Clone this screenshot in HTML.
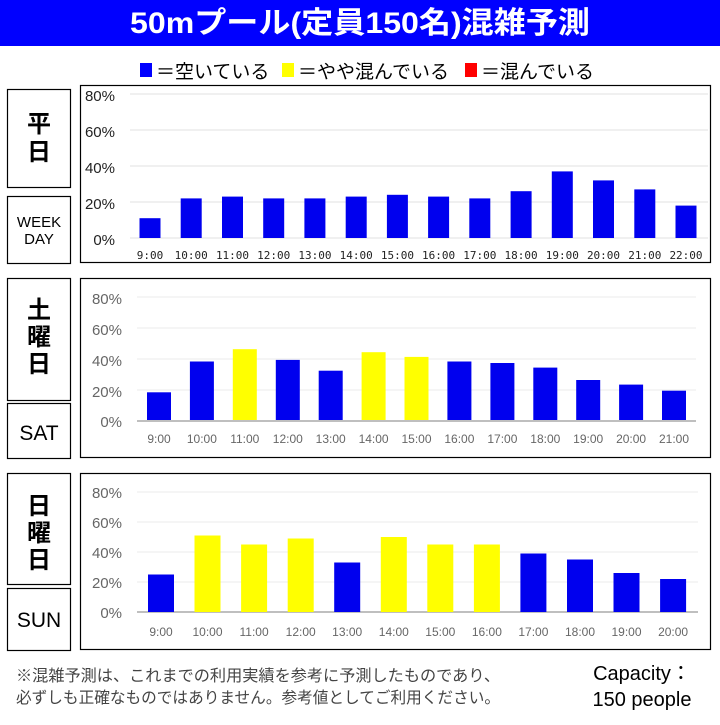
<!DOCTYPE html>
<html><head><meta charset="utf-8"><style>
body{margin:0;background:#fff;width:720px;height:720px;overflow:hidden}
text{font-family:"Liberation Sans","Noto Sans CJK JP",sans-serif}
.m{font-family:"DejaVu Sans Mono","Liberation Mono",monospace}
</style></head><body>
<svg width="720" height="720" xmlns="http://www.w3.org/2000/svg">
<rect x="0" y="0" width="720" height="46" fill="#0000ff"/>
<text x="360" y="33" text-anchor="middle" font-size="30" font-weight="bold" fill="#fff" textLength="460" lengthAdjust="spacingAndGlyphs">50mプール(定員150名)混雑予測</text>
<rect x="140" y="63" width="12" height="14" fill="#0000ff"/>
<text x="156" y="78" font-size="19" fill="#000">＝空いている</text>
<rect x="282" y="63" width="12" height="14" fill="#ffff00"/>
<text x="298" y="78" font-size="19" fill="#000">＝やや混んでいる</text>
<rect x="465" y="63" width="12" height="14" fill="#ff0000"/>
<text x="481" y="78" font-size="19" fill="#000">＝混んでいる</text>

<g fill="none" stroke="#000" stroke-width="1.2">
<rect x="7.5" y="89.5" width="63" height="98"/>
<rect x="7.5" y="196.5" width="63" height="67"/>
<rect x="80.5" y="85.5" width="630" height="177"/>
<rect x="7.5" y="278.5" width="63" height="122"/>
<rect x="7.5" y="403.5" width="63" height="55"/>
<rect x="80.5" y="278.5" width="630" height="179"/>
<rect x="7.5" y="473.5" width="63" height="111"/>
<rect x="7.5" y="588.5" width="63" height="62"/>
<rect x="80.5" y="473.5" width="630" height="176"/>
</g>
<g font-weight="bold" font-size="24" text-anchor="middle" fill="#000">
<text x="39" y="132">平</text><text x="39" y="160">日</text>
<text x="39" y="318">土</text><text x="39" y="345">曜</text><text x="39" y="372">日</text>
<text x="39" y="514">日</text><text x="39" y="541">曜</text><text x="39" y="568">日</text>
</g>
<g font-size="15" text-anchor="middle" fill="#000">
<text x="39" y="227">WEEK</text><text x="39" y="244">DAY</text>
</g>
<g font-size="21" text-anchor="middle" fill="#000">
<text x="39" y="440">SAT</text><text x="39" y="627">SUN</text>
</g>

<!-- panel 1 -->
<g stroke="#e0e0e0" stroke-width="1">
<line x1="130" x2="708" y1="94" y2="94"/><line x1="130" x2="708" y1="130" y2="130"/>
<line x1="130" x2="708" y1="166" y2="166"/><line x1="130" x2="708" y1="202" y2="202"/>
<line x1="130" x2="708" y1="238" y2="238"/>
</g>
<g font-size="15" fill="#222" text-anchor="end">
<text x="115" y="101">80%</text><text x="115" y="137">60%</text><text x="115" y="173">40%</text><text x="115" y="209">20%</text><text x="115" y="245">0%</text>
</g>
<g fill="#0000ee">
<rect x="139.5" y="218.2" width="21" height="19.8"/>
<rect x="180.7" y="198.4" width="21" height="39.6"/>
<rect x="222" y="196.6" width="21" height="41.4"/>
<rect x="263.2" y="198.4" width="21" height="39.6"/>
<rect x="304.4" y="198.4" width="21" height="39.6"/>
<rect x="345.7" y="196.6" width="21" height="41.4"/>
<rect x="386.9" y="194.8" width="21" height="43.2"/>
<rect x="428.1" y="196.6" width="21" height="41.4"/>
<rect x="469.3" y="198.4" width="21" height="39.6"/>
<rect x="510.6" y="191.2" width="21" height="46.8"/>
<rect x="551.8" y="171.4" width="21" height="66.6"/>
<rect x="593" y="180.4" width="21" height="57.6"/>
<rect x="634.3" y="189.4" width="21" height="48.6"/>
<rect x="675.5" y="205.6" width="21" height="32.4"/>
</g>
<g font-size="11" fill="#222" text-anchor="middle">
<text class="m" x="150" y="259">9:00</text><text class="m" x="191.2" y="259">10:00</text><text class="m" x="232.5" y="259">11:00</text><text class="m" x="273.7" y="259">12:00</text><text class="m" x="314.9" y="259">13:00</text><text class="m" x="356.2" y="259">14:00</text><text class="m" x="397.4" y="259">15:00</text><text class="m" x="438.6" y="259">16:00</text><text class="m" x="479.8" y="259">17:00</text><text class="m" x="521.1" y="259">18:00</text><text class="m" x="562.3" y="259">19:00</text><text class="m" x="603.5" y="259">20:00</text><text class="m" x="644.8" y="259">21:00</text><text class="m" x="686" y="259">22:00</text>
</g>

<!-- panel 2 -->
<g stroke="#ebebeb" stroke-width="1">
<line x1="137" x2="696" y1="297" y2="297"/><line x1="137" x2="696" y1="328" y2="328"/>
<line x1="137" x2="696" y1="359" y2="359"/><line x1="137" x2="696" y1="390" y2="390"/>
</g>
<line x1="137" x2="696" y1="421" y2="421" stroke="#bfbfbf" stroke-width="2"/>
<g font-size="15" fill="#666" text-anchor="end">
<text x="122" y="304">80%</text><text x="122" y="335">60%</text><text x="122" y="366">40%</text><text x="122" y="397">20%</text><text x="122" y="427">0%</text>
</g>
<g>
<rect x="147" y="392.3" width="24" height="27.7" fill="#0000ee"/>
<rect x="189.9" y="361.5" width="24" height="58.5" fill="#0000ee"/>
<rect x="232.8" y="349.2" width="24" height="70.8" fill="#ffff00"/>
<rect x="275.8" y="359.9" width="24" height="60.1" fill="#0000ee"/>
<rect x="318.7" y="370.7" width="24" height="49.3" fill="#0000ee"/>
<rect x="361.6" y="352.2" width="24" height="67.8" fill="#ffff00"/>
<rect x="404.5" y="356.9" width="24" height="63.1" fill="#ffff00"/>
<rect x="447.4" y="361.5" width="24" height="58.5" fill="#0000ee"/>
<rect x="490.4" y="363" width="24" height="57" fill="#0000ee"/>
<rect x="533.3" y="367.6" width="24" height="52.4" fill="#0000ee"/>
<rect x="576.2" y="380" width="24" height="40" fill="#0000ee"/>
<rect x="619.1" y="384.6" width="24" height="35.4" fill="#0000ee"/>
<rect x="662" y="390.7" width="24" height="29.3" fill="#0000ee"/>
</g>
<g font-size="12" fill="#666" text-anchor="middle">
<text x="159" y="443">9:00</text><text x="201.9" y="443">10:00</text><text x="244.8" y="443">11:00</text><text x="287.8" y="443">12:00</text><text x="330.7" y="443">13:00</text><text x="373.6" y="443">14:00</text><text x="416.5" y="443">15:00</text><text x="459.4" y="443">16:00</text><text x="502.4" y="443">17:00</text><text x="545.3" y="443">18:00</text><text x="588.2" y="443">19:00</text><text x="631.1" y="443">20:00</text><text x="674" y="443">21:00</text>
</g>

<!-- panel 3 -->
<g stroke="#ebebeb" stroke-width="1">
<line x1="137" x2="698" y1="492" y2="492"/><line x1="137" x2="698" y1="522" y2="522"/>
<line x1="137" x2="698" y1="552" y2="552"/><line x1="137" x2="698" y1="582" y2="582"/>
</g>
<line x1="137" x2="698" y1="612" y2="612" stroke="#bfbfbf" stroke-width="2"/>
<g font-size="15" fill="#666" text-anchor="end">
<text x="122" y="498">80%</text><text x="122" y="528">60%</text><text x="122" y="558">40%</text><text x="122" y="588">20%</text><text x="122" y="618">0%</text>
</g>
<g>
<rect x="148" y="574.5" width="26" height="37.5" fill="#0000ee"/>
<rect x="194.5" y="535.5" width="26" height="76.5" fill="#ffff00"/>
<rect x="241.1" y="544.5" width="26" height="67.5" fill="#ffff00"/>
<rect x="287.7" y="538.5" width="26" height="73.5" fill="#ffff00"/>
<rect x="334.2" y="562.5" width="26" height="49.5" fill="#0000ee"/>
<rect x="380.8" y="537" width="26" height="75" fill="#ffff00"/>
<rect x="427.3" y="544.5" width="26" height="67.5" fill="#ffff00"/>
<rect x="473.9" y="544.5" width="26" height="67.5" fill="#ffff00"/>
<rect x="520.4" y="553.5" width="26" height="58.5" fill="#0000ee"/>
<rect x="567" y="559.5" width="26" height="52.5" fill="#0000ee"/>
<rect x="613.5" y="573" width="26" height="39" fill="#0000ee"/>
<rect x="660.1" y="579" width="26" height="33" fill="#0000ee"/>
</g>
<g font-size="12" fill="#666" text-anchor="middle">
<text x="161" y="636">9:00</text><text x="207.5" y="636">10:00</text><text x="254.1" y="636">11:00</text><text x="300.7" y="636">12:00</text><text x="347.2" y="636">13:00</text><text x="393.8" y="636">14:00</text><text x="440.3" y="636">15:00</text><text x="486.9" y="636">16:00</text><text x="533.4" y="636">17:00</text><text x="580" y="636">18:00</text><text x="626.5" y="636">19:00</text><text x="673.1" y="636">20:00</text>
</g>

<g font-size="16" fill="#444">
<text x="16" y="681" textLength="484" lengthAdjust="spacingAndGlyphs">※混雑予測は、これまでの利用実績を参考に予測したものであり、</text>
<text x="16" y="703" textLength="484" lengthAdjust="spacingAndGlyphs">必ずしも正確なものではありません。参考値としてご利用ください。</text>
</g>
<g font-size="20" fill="#000" text-anchor="middle">
<text x="642" y="680">Capacity：</text>
<text x="642" y="706">150 people</text>
</g>
</svg>
</body></html>
